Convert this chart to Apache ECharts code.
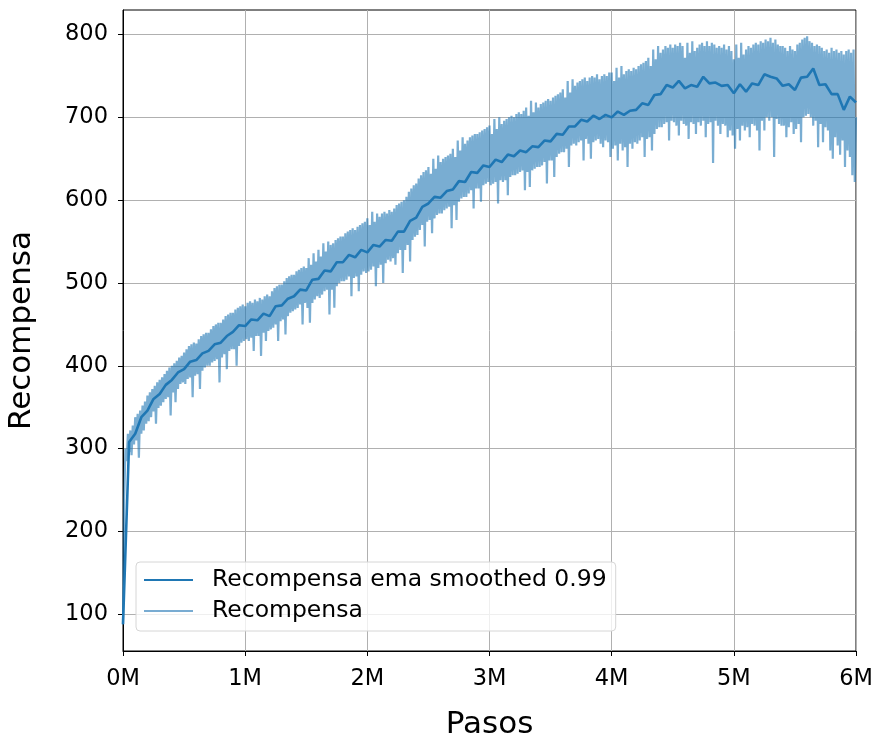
<!DOCTYPE html>
<html>
<head>
<meta charset="utf-8">
<script src="https://cdn.jsdelivr.net/npm/echarts@6/dist/echarts.min.js"></script>
<style>
  html, body { margin: 0; padding: 0; background: #fff; }
  #main { width: 876px; height: 740px; }
</style>
</head>
<body>
<div id="main"></div>
<script>
// pasos entre muestras
var rawStep = 10000;
var smoothStep = 50000;

// recompensa cruda, una muestra cada 10k pasos (0 .. 6M)
var rawReward = [
  88, 240, 300, 285, 318, 296, 322, 292, 328, 305,
  338, 310, 342, 289, 346, 318, 352, 322, 357, 330,
  364, 333, 368, 338, 372, 345, 376, 330, 380, 349,
  383, 352, 386, 356, 390, 360, 394, 362, 398, 340,
  400, 368, 403, 356, 406, 372, 410, 378, 412, 380,
  416, 378, 420, 384, 424, 386, 426, 362, 428, 388,
  427, 390, 432, 372, 436, 394, 438, 398, 440, 400,
  440, 400, 444, 404, 448, 406, 450, 408, 452, 380,
  452, 410, 456, 414, 460, 396, 462, 418, 464, 420,
  464, 420, 468, 400, 470, 424, 472, 428, 474, 430,
  472, 432, 476, 430, 478, 434, 476, 418, 480, 436,
  478, 436, 482, 412, 480, 440, 484, 430, 486, 442,
  484, 444, 490, 446, 494, 450, 496, 430, 498, 454,
  498, 456, 502, 438, 506, 460, 508, 464, 510, 466,
  510, 468, 514, 470, 516, 474, 518, 450, 520, 476,
  518, 470, 530, 452, 522, 476, 536, 480, 526, 484,
  540, 482, 532, 486, 548, 490, 538, 492, 550, 462,
  546, 492, 548, 470, 552, 496, 554, 500, 556, 502,
  556, 502, 560, 504, 562, 508, 564, 484, 566, 506,
  564, 508, 568, 490, 570, 510, 572, 514, 574, 512,
  578, 514, 570, 516, 586, 520, 574, 496, 584, 518,
  580, 522, 584, 500, 586, 524, 584, 528, 588, 526,
  586, 530, 590, 522, 594, 536, 596, 540, 598, 512,
  600, 540, 604, 546, 610, 526, 614, 552, 618, 556,
  620, 558, 626, 564, 630, 570, 634, 544, 636, 574,
  640, 576, 632, 560, 650, 578, 638, 582, 654, 584,
  646, 584, 650, 588, 652, 590, 654, 592, 656, 566,
  662, 594, 652, 576, 672, 598, 660, 602, 676, 604,
  668, 604, 672, 608, 676, 612, 678, 590, 680, 614,
  680, 614, 682, 598, 684, 618, 686, 620, 688, 622,
  690, 618, 680, 620, 698, 622, 686, 596, 700, 624,
  692, 622, 696, 624, 698, 606, 700, 628, 702, 630,
  700, 630, 704, 632, 706, 634, 704, 636, 708, 612,
  712, 634, 702, 616, 720, 636, 706, 638, 718, 640,
  712, 640, 716, 642, 718, 646, 720, 620, 722, 648,
  720, 648, 724, 628, 726, 652, 728, 656, 730, 658,
  734, 658, 724, 662, 744, 640, 730, 666, 746, 668,
  738, 666, 742, 670, 744, 672, 746, 648, 748, 674,
  744, 668, 748, 650, 750, 670, 748, 672, 752, 674,
  746, 668, 750, 664, 752, 672, 750, 670, 754, 652,
  754, 662, 744, 666, 760, 648, 748, 668, 762, 660,
  752, 664, 756, 640, 758, 668, 756, 662, 760, 670,
  758, 668, 762, 672, 764, 676, 766, 652, 768, 674,
  772, 676, 762, 660, 782, 680, 770, 686, 786, 688,
  778, 688, 782, 692, 786, 694, 784, 672, 788, 696,
  784, 694, 788, 690, 786, 678, 790, 696, 786, 692,
  772, 690, 790, 674, 778, 694, 792, 692, 780, 680,
  784, 694, 788, 690, 790, 696, 786, 676, 792, 692,
  786, 694, 790, 645, 788, 696, 784, 690, 786, 680,
  784, 692, 788, 690, 782, 676, 786, 684, 780, 678,
  770, 662, 788, 686, 772, 672, 790, 690, 776, 684,
  782, 688, 786, 676, 784, 692, 788, 690, 790, 684,
  788, 660, 792, 696, 790, 684, 794, 700, 792, 696,
  796, 700, 790, 652, 794, 698, 788, 692, 786, 690,
  786, 690, 784, 676, 780, 688, 786, 694, 782, 680,
  780, 686, 788, 692, 790, 670, 794, 700, 796, 702,
  798, 704, 792, 700, 790, 690, 786, 696, 788, 664,
  786, 692, 784, 670, 780, 688, 782, 684, 778, 660,
  784, 650, 780, 676, 782, 666, 778, 655, 780, 672,
  776, 640, 780, 660, 782, 652, 778, 630, 782, 622,
  700
];

// recompensa suavizada (ema 0.99), una muestra cada 50k pasos
var smoothReward = [
  88, 308, 318, 338, 346, 360, 366, 377, 383, 392,
  396, 405, 407, 415, 418, 426, 428, 436, 441, 449,
  448, 456, 455, 463, 460, 472, 473, 481, 484, 492,
  491, 504, 505, 515, 514, 525, 525, 534, 531, 540,
  537, 546, 544, 552, 551, 562, 562, 575, 579, 592,
  596, 604, 603, 611, 613, 623, 622, 634, 633, 642,
  640, 649, 646, 655, 653, 660, 658, 665, 664, 672,
  671, 680, 679, 689, 689, 697, 695, 702, 698, 703,
  700, 707, 703, 708, 709, 717, 715, 727, 728, 739,
  736, 744, 735, 739, 737, 749, 741, 742, 738, 739,
  729, 740, 731, 741, 739, 752, 749, 747, 738, 740,
  733, 748, 749, 759, 739, 740, 728, 728, 709, 725,
  718
];

var yTicks = [100, 200, 300, 400, 500, 600, 700, 800];

var rawData = rawReward.map(function (v, i) { return [i * rawStep, v]; });
var smoothData = smoothReward.map(function (v, i) { return [i * smoothStep, v]; });

var font = 'DejaVu Sans';
var myChart = echarts.init(document.getElementById('main'), null, { renderer: 'canvas' });

var option = {
    backgroundColor: '#fff',
    animation: false,
    grid: {
        left: 123,
        right: 20,
        top: 10,
        bottom: 89,
        outerBoundsMode: 'none',
        show: true,
        borderColor: '#000',
        borderWidth: 1,
        backgroundColor: 'transparent'
    },
    legend: {
        orient: 'vertical',
        left: 136,
        top: 562,
        data: ['Recompensa ema smoothed 0.99', 'Recompensa'],
        icon: 'rect',
        itemWidth: 49,
        itemHeight: 2,
        itemGap: 7,
        padding: [6, 9, 8, 8],
        backgroundColor: 'rgba(255,255,255,0.8)',
        borderColor: '#d6d6d6',
        borderWidth: 1,
        borderRadius: 4,
        textStyle: {
            fontFamily: font,
            fontSize: 23.5,
            color: '#000',
            padding: [0, 0, 0, 14]
        }
    },
    xAxis: {
        type: 'value',
        min: 0,
        max: 6000000,
        interval: 1000000,
        name: 'Pasos',
        nameLocation: 'middle',
        nameGap: 58,
        nameTextStyle: { fontFamily: font, fontSize: 31, color: '#000' },
        axisLine: { show: true, onZero: false, lineStyle: { color: '#000', width: 1 } },
        axisTick: { show: true, length: 5, lineStyle: { color: '#000' } },
        axisLabel: {
            fontFamily: font,
            fontSize: 22.5,
            color: '#000',
            margin: 17,
            formatter: function (v) { return (v / 1000000) + 'M'; }
        },
        splitLine: { show: true, lineStyle: { color: '#b0b0b0', width: 1 } }
    },
    yAxis: {
        type: 'value',
        min: 55.7,
        max: 829.6,
        name: 'Recompensa',
        nameLocation: 'middle',
        nameGap: 86,
        nameTextStyle: { fontFamily: font, fontSize: 31, color: '#000' },
        axisLine: { show: true, onZero: false, lineStyle: { color: '#000', width: 1 } },
        axisTick: { show: true, length: 5, customValues: yTicks, lineStyle: { color: '#000' } },
        axisLabel: {
            fontFamily: font,
            fontSize: 22.5,
            color: '#000',
            margin: 15,
            customValues: yTicks
        },
        splitLine: { show: true, lineStyle: { color: '#b0b0b0', width: 1 } }
    },
    series: [
        {
            name: 'Recompensa',
            type: 'line',
            data: rawData,
            showSymbol: false,
            symbol: 'none',
            z: 2,
            lineStyle: { color: '#1f77b4', opacity: 0.6, width: 2.2, join: 'miter' },
            itemStyle: { color: '#79acd2' }
        },
        {
            name: 'Recompensa ema smoothed 0.99',
            type: 'line',
            data: smoothData,
            showSymbol: false,
            symbol: 'none',
            z: 3,
            lineStyle: { color: '#1f77b4', width: 2.6 },
            itemStyle: { color: '#1f77b4' }
        }
    ]
};

myChart.setOption(option);
</script>
</body>
</html>
